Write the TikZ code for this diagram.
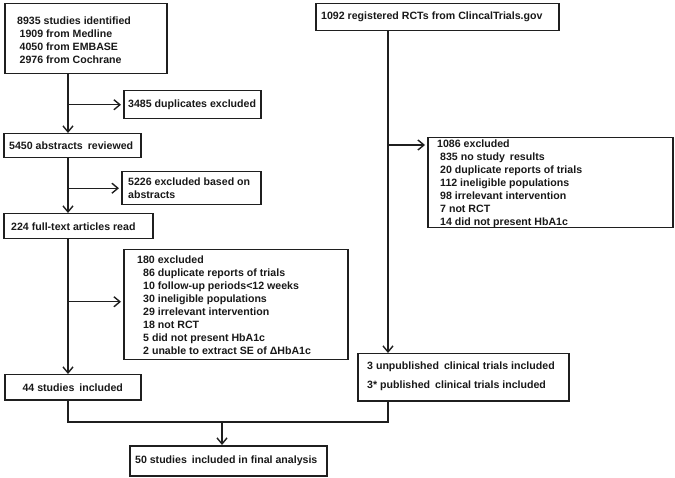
\documentclass[tikz,border=0pt]{standalone}
\usepackage{fontspec}
\setmainfont{Liberation Sans}
\usetikzlibrary{arrows.meta}
\begin{document}
\begin{tikzpicture}[x=1pt,y=-1pt,
  bx/.style={draw=black!88, line width=1.5pt, inner sep=0pt, anchor=north west, fill=white},
  tx/.style={anchor=west, align=left, inner sep=0pt, font=\fontsize{10.6}{13}\selectfont\bfseries, text=black!90},
  ln/.style={draw=black!88, line width=1.4pt},
  ar/.style={ln, -{Straight Barb[length=6pt,width=10pt]}}]
\useasboundingbox (0,0) rectangle (675,478);
% left column boxes
\node[bx, minimum width=162pt, minimum height=70pt] (b1) at (4,3) {};
\node[tx] (b1t) at ([xshift=13pt,yshift=-1pt]b1.west) {8935 studies identified\\\hspace*{2.5pt}1909 from Medline\\\hspace*{2.5pt}4050 from EMBASE\\\hspace*{2.5pt}2976 from Cochrane};
\node[bx, minimum width=137pt, minimum height=28pt] (d1) at (123,90) {};
\node[tx] (d1t) at ([xshift=5pt]d1.west) {3485 duplicates excluded};
\node[bx, minimum width=137pt, minimum height=24pt] (b2) at (3,133) {};
\node[tx] (b2t) at ([xshift=6pt]b2.west) {5450 abstracts\hspace{2pt} reviewed};
\node[bx, minimum width=139pt, minimum height=33pt] (d2) at (121,171) {};
\node[tx] (d2t) at ([xshift=7pt]d2.west) {5226 excluded based on\\abstracts};
\node[bx, minimum width=149pt, minimum height=25pt] (b3) at (3,213) {};
\node[tx] (b3t) at ([xshift=8pt]b3.west) {224 full-text articles read};
\node[bx, minimum width=224pt, minimum height=110pt] (d3) at (123,249) {};
\node[tx] (d3t) at ([xshift=14pt]d3.west) {180 excluded\\\hspace*{6pt}86 duplicate reports of trials\\\hspace*{6pt}10 follow-up periods<12 weeks\\\hspace*{6pt}30 ineligible populations\\\hspace*{6pt}29 irrelevant intervention\\\hspace*{6pt}18 not RCT\\\hspace*{6pt}5 did not present HbA1c\\\hspace*{6pt}2 unable to extract SE of ΔHbA1c};
\node[bx, minimum width=136pt, minimum height=25pt] (b4) at (4,374) {};
\node[tx, anchor=center] (b4t) at (b4.center) {44 studies\hspace{2pt} included};
\node[bx, minimum width=197pt, minimum height=30pt] (f) at (129,445) {};
\node[tx, anchor=center] (ft) at ([xshift=-2pt]f.center) {50 studies\hspace{2pt} included in final analysis};
% right column boxes
\node[bx, minimum width=243pt, minimum height=27pt] (r1) at (315,3) {};
\node[tx] (r1t) at ([xshift=6pt]r1.west) {1092 registered RCTs from ClincalTrials.gov};
\node[bx, minimum width=245pt, minimum height=90pt] (r2) at (427,137) {};
\node[tx] (r2t) at ([xshift=10pt,yshift=-1.5pt]r2.west) {1086 excluded\\\hspace*{3pt}835 no study\hspace{2pt} results\\\hspace*{3pt}20 duplicate reports of trials\\\hspace*{3pt}112 ineligible populations\\\hspace*{3pt}98 irrelevant intervention\\\hspace*{3pt}7 not RCT\\\hspace*{3pt}14 did not present HbA1c};
\node[bx, minimum width=211pt, minimum height=47pt] (r3) at (357,353) {};
\node[tx] (r3t) at ([xshift=10pt,yshift=1pt]r3.west) {3 unpublished\hspace{2pt} clinical trials included\\[6pt]3* published\hspace{2pt} clinical trials included};
% connectors
\coordinate (L) at (68,0);
\coordinate (R) at (388,0);
\coordinate (M) at (222,422);
\coordinate (r2in) at ([yshift=-8pt]r2.north west);
\draw[ar] (b1.south -| L) -- (b2.north -| L);
\draw[ar] (d1.west -| L) -- ([xshift=-2pt]d1.west);
\draw[ar] (b2.south -| L) -- (b3.north -| L);
\draw[ar] (d2.west -| L) -- ([xshift=-2pt]d2.west);
\draw[ar] (b3.south -| L) -- (b4.north -| L);
\draw[ar] ([yshift=3pt]d3.west -| L) -- ([xshift=-2pt,yshift=3pt]d3.west);
\draw[ar] (r1.south -| R) -- (r3.north -| R);
\draw[ar] (r2in -| R) -- ([xshift=-2pt]r2in);
\draw[ln] (b4.south -| L) |- (M) -| (r3.south -| R);
\draw[ar] (M) -- (f.north -| M);
\end{tikzpicture}
\end{document}
